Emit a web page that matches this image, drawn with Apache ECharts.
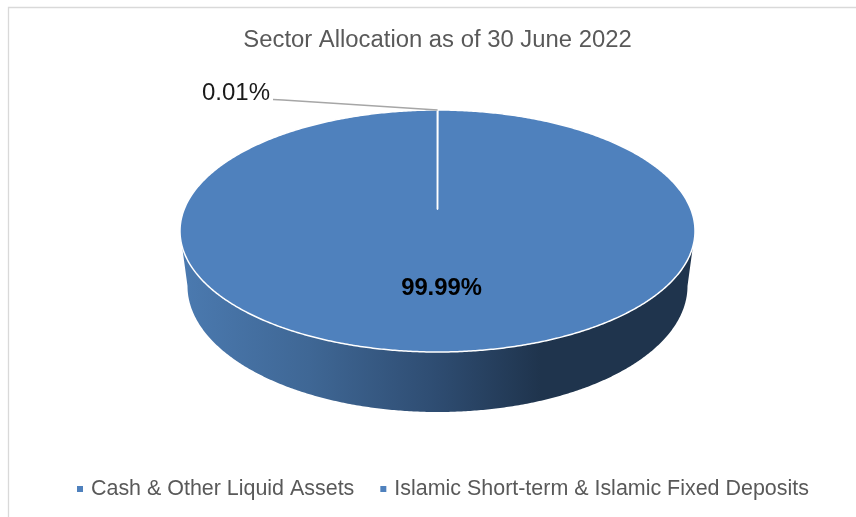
<!DOCTYPE html>
<html>
<head>
<meta charset="utf-8">
<style>html,body{margin:0;padding:0;background:#fff}#chart{width:856px;height:517px}</style>
<script src="https://cdn.jsdelivr.net/npm/echarts@6/dist/echarts.min.js"></script>
</head>
<body>
<div id="chart"></div>
<script>
const chartTitle = 'Sector Allocation as of 30 June 2022';
const sectorNames = ['Cash & Other Liquid Assets', 'Islamic Short-term & Islamic Fixed Deposits'];
const sectorShares = [0.01, 99.99];

const FONT = '"Liberation Sans", Arial, sans-serif';
const BLUE = '#4F81BD';

// Tilted disc: top face ellipse, smaller lower rim, and a perspective apex above the ellipse centre
const top3d = { cx: 437.5, cy: 231, rx: 257.5, ry: 121, apexY: 209 };
const low3d = { cx: 437.5, cy: 286, rx: 250, ry: 126 };

function rimPoint(e, deg) {
  const t = deg * Math.PI / 180;
  return [e.cx + e.rx * Math.sin(t), e.cy - e.ry * Math.cos(t)];
}
function rimArc(e, from, to) {
  const steps = Math.max(1, Math.ceil(Math.abs(to - from) * 2));
  const pts = [];
  for (let i = 0; i <= steps; i++) pts.push(rimPoint(e, from + (to - from) * i / steps));
  return pts;
}

const sideFill = new echarts.graphic.LinearGradient(180, 0, 695, 0, [
  { offset: 0, color: '#4B7AB0' },
  { offset: 0.25, color: '#3F6795' },
  { offset: 0.5, color: '#2E4C71' },
  { offset: 0.7, color: '#1F344D' },
  { offset: 1, color: '#1F344D' }
], true);

function renderSector(params, api) {
  const a = api.value(0) * 3.6;
  const b = api.value(1) * 3.6;
  const children = [];

  // Visible wall: only the part of the slice that faces the viewer
  const s = Math.max(a, 90), e = Math.min(b, 270);
  if (e > s) {
    const upper = rimArc(top3d, s, e);
    const lower = rimArc(low3d, s, e).reverse();
    children.push({
      type: 'polygon',
      shape: { points: upper.concat(lower) },
      style: { fill: sideFill, stroke: null }
    });
  }

  // Top face of the slice
  children.push({
    type: 'polygon',
    shape: { points: [[top3d.cx, top3d.apexY]].concat(rimArc(top3d, a, b)) },
    style: { fill: BLUE, stroke: '#fff', lineWidth: 1.5, lineJoin: 'round' }
  });

  const text = sectorShares[params.seriesIndex].toFixed(2) + '%';
  if (params.seriesIndex === 0) {
    const tip = rimPoint(top3d, (a + b) / 2);
    children.push({
      type: 'polyline',
      shape: { points: [[273, 99.5], [283, 100], tip] },
      style: { fill: null, stroke: '#A6A6A6', lineWidth: 1.3 }
    });
    children.push({
      type: 'text',
      style: { x: 236, y: 93.5, text, fill: '#1A1A1A', font: '24px ' + FONT, align: 'center', verticalAlign: 'middle' }
    });
  } else {
    children.push({
      type: 'text',
      style: { x: 441.5, y: 288.5, text, fill: '#000', font: 'bold 23.8px ' + FONT, align: 'center', verticalAlign: 'middle' }
    });
  }
  return { type: 'group', children };
}

let running = 0;
const series = sectorNames.map((name, i) => {
  const start = running;
  running += sectorShares[i];
  return {
    type: 'custom',
    name,
    coordinateSystem: 'none',
    renderItem: renderSector,
    z: 3 - i,
    silent: true,
    animation: false,
    data: [[start, running]]
  };
});

const chart = echarts.init(document.getElementById('chart'), null, { renderer: 'canvas' });
chart.setOption({
  animation: false,
  backgroundColor: '#fff',
  color: [BLUE, BLUE],
  title: {
    text: chartTitle,
    left: 432.5,
    textAlign: 'center',
    top: 23,
    textStyle: { fontFamily: FONT, fontSize: 23.85, fontWeight: 'normal', color: '#595959' }
  },
  legend: {
    data: sectorNames,
    left: 77,
    top: 478.5,
    padding: 0,
    icon: 'rect',
    itemWidth: 6,
    itemHeight: 6,
    itemGap: 26,
    textStyle: { fontFamily: FONT, fontSize: 21.45, color: '#595959', padding: [0, 0, 0, 3] }
  },
  graphic: [{
    type: 'polyline',
    silent: true,
    shape: { points: [[8.5, 517], [8.5, 7.5], [856, 7.5]] },
    style: { fill: null, stroke: '#D9D9D9', lineWidth: 1.3 }
  }],
  series
});
</script>
</body>
</html>
